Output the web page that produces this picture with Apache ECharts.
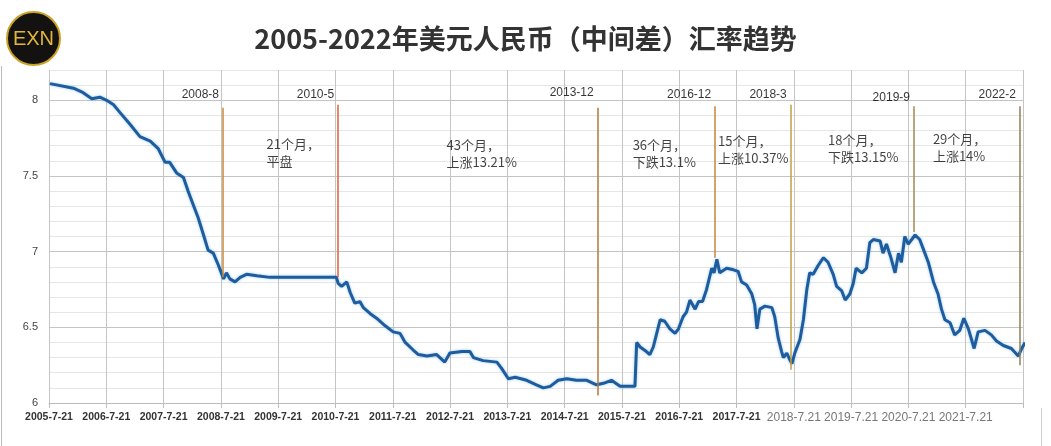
<!DOCTYPE html>
<html>
<head>
<meta charset="utf-8">
<script src="https://cdn.jsdelivr.net/npm/echarts@6/dist/echarts.min.js"></script>
<style>
  html, body { margin: 0; padding: 0; background: #fff; }
  #chart { width: 1051px; height: 446px; }
</style>
</head>
<body>
<div id="chart"></div>
<script>
// x 轴起点 2005-7-21（小数年）
const BASE = 2005.553;

const dates = [
  2005.57, 2005.98, 2006.15, 2006.30, 2006.44, 2006.56, 2006.68, 2006.79, 2006.97, 2007.14,
  2007.32, 2007.46, 2007.58, 2007.66, 2007.78, 2007.90, 2007.98, 2008.07, 2008.16, 2008.25,
  2008.33, 2008.42, 2008.51, 2008.60, 2008.65, 2008.71, 2008.80, 2008.89, 2009.00, 2009.18,
  2009.41, 2009.70, 2010.57, 2010.60, 2010.66, 2010.75, 2010.81, 2010.89, 2010.98, 2011.04,
  2011.16, 2011.27, 2011.42, 2011.56, 2011.68, 2011.77, 2011.91, 2012.00, 2012.15, 2012.32,
  2012.46, 2012.55, 2012.76, 2012.90, 2012.96, 2013.13, 2013.37, 2013.45, 2013.57, 2013.69,
  2013.89, 2014.06, 2014.18, 2014.30, 2014.44, 2014.59, 2014.76, 2014.94, 2015.11, 2015.23,
  2015.37, 2015.52, 2015.78, 2015.81, 2015.87, 2015.98, 2016.04, 2016.10, 2016.16, 2016.22,
  2016.30, 2016.39, 2016.48, 2016.54, 2016.62, 2016.68, 2016.74, 2016.83, 2016.89, 2016.96,
  2017.03, 2017.12, 2017.16, 2017.21, 2017.26, 2017.38, 2017.50, 2017.58, 2017.64, 2017.73,
  2017.82, 2017.87, 2017.91, 2017.96, 2018.05, 2018.17, 2018.22, 2018.28, 2018.34, 2018.37,
  2018.43, 2018.49, 2018.52, 2018.57, 2018.66, 2018.72, 2018.78, 2018.83, 2018.89, 2018.98,
  2019.07, 2019.15, 2019.24, 2019.30, 2019.39, 2019.45, 2019.53, 2019.59, 2019.64, 2019.74,
  2019.82, 2019.88, 2019.94, 2020.06, 2020.11, 2020.17, 2020.24, 2020.32, 2020.38, 2020.43,
  2020.49, 2020.55, 2020.67, 2020.75, 2020.84, 2020.90, 2020.99, 2021.07, 2021.13, 2021.19,
  2021.28, 2021.36, 2021.45, 2021.52, 2021.60, 2021.70, 2021.77, 2021.89, 2022.00, 2022.09,
  2022.21, 2022.35, 2022.47, 2022.53, 2022.59
];

const rates = [
  8.11, 8.08, 8.05, 8.01, 8.02, 8.00, 7.97, 7.92, 7.84, 7.76,
  7.73, 7.68, 7.59, 7.59, 7.52, 7.49, 7.40, 7.31, 7.22, 7.11,
  7.01, 6.99, 6.91, 6.82, 6.86, 6.82, 6.80, 6.83, 6.85, 6.84,
  6.83, 6.83, 6.83, 6.79, 6.77, 6.80, 6.73, 6.66, 6.67, 6.63,
  6.59, 6.56, 6.51, 6.47, 6.46, 6.40, 6.35, 6.32, 6.31, 6.32,
  6.27, 6.33, 6.34, 6.34, 6.30, 6.28, 6.27, 6.23, 6.16, 6.17,
  6.15, 6.12, 6.10, 6.11, 6.15, 6.16, 6.15, 6.15, 6.12, 6.13,
  6.15, 6.11, 6.11, 6.40, 6.37, 6.34, 6.32, 6.37, 6.46, 6.55,
  6.54, 6.49, 6.46, 6.49, 6.57, 6.60, 6.68, 6.62, 6.67, 6.67,
  6.75, 6.89, 6.86, 6.95, 6.86, 6.89, 6.88, 6.87, 6.80, 6.78,
  6.72, 6.65, 6.49, 6.62, 6.64, 6.63, 6.57, 6.43, 6.34, 6.30,
  6.33, 6.28, 6.26, 6.33, 6.42, 6.55, 6.75, 6.86, 6.85, 6.91,
  6.96, 6.93, 6.85, 6.77, 6.74, 6.68, 6.72, 6.79, 6.89, 6.86,
  6.89, 7.06, 7.08, 7.07, 6.99, 7.05, 6.97, 6.86, 6.99, 6.93,
  7.10, 7.05, 7.11, 7.08, 6.99, 6.93, 6.80, 6.72, 6.62, 6.55,
  6.53, 6.45, 6.48, 6.56, 6.49, 6.36, 6.47, 6.48, 6.45, 6.41,
  6.38, 6.36, 6.31, 6.36, 6.40
];

const xLabels = [
  '2005-7-21', '2006-7-21', '2007-7-21', '2008-7-21', '2009-7-21', '2010-7-21',
  '2011-7-21', '2012-7-21', '2013-7-21', '2014-7-21', '2015-7-21', '2016-7-21',
  '2017-7-21', '2018-7.21', '2019-7.21', '2020-7.21', '2021-7.21'
];

// 竖线标注
const markNames = ['2008-8', '2010-5', '2013-12', '2016-12', '2018-3', '2019-9', '2022-2'];
const markDates = [2008.59, 2010.60, 2015.13, 2017.18, 2018.50, 2020.65, 2022.50];
const markTops = [7.95, 7.97, 7.95, 7.96, 7.97, 7.96, 7.96];
const markEnds = [6.83, 6.83, 6.05, 6.96, 6.22, 7.13, 6.25];
const markLabelY = [8.04, 8.04, 8.05, 8.04, 8.04, 8.02, 8.04];
const markColors = ['#c98a3a', '#e0603a', '#b5793a', '#c8843a', '#c0a040', '#a08a50', '#8f7f55'];

// 区间说明
const noteTexts = ['21个月，\n平盘', '43个月，\n上涨13.21%', '36个月，\n下跌13.1%',
  '15个月，\n上涨10.37%', '18个月，\n下跌13.15%', '29个月，\n上涨14%'];
const noteDates = [2009.35, 2012.49, 2015.74, 2017.23, 2019.15, 2020.98];
const noteY = [7.765, 7.758, 7.758, 7.787, 7.791, 7.803];

const SANS = "'Liberation Sans', Arial, sans-serif";

// 0.5 的整数倍用深色线，其余浅色
const gridColors = [];
for (let i = 0; i <= 22; i++) gridColors.push(i % 5 === 0 ? '#c4c4c4' : '#e6e6e6');

const chart = echarts.init(document.getElementById('chart'), null, { renderer: 'canvas' });

const option = {
  backgroundColor: '#fff',
  animation: false,
  title: {
    text: '2005-2022年美元人民币（中间差）汇率趋势',
    left: 'center',
    top: 20,
    textStyle: {
      fontFamily: "'Noto Sans CJK SC', sans-serif",
      fontSize: 27,
      fontWeight: 'bold',
      color: '#333'
    }
  },
  grid: { left: 49, right: 28, top: 70, bottom: 43 },
  xAxis: {
    type: 'value',
    min: 0,
    max: 17,
    interval: 1,
    axisLine: { show: true, lineStyle: { color: '#bdbdbd' } },
    axisTick: { show: true, length: 5, lineStyle: { color: '#bdbdbd' } },
    splitLine: { show: true, lineStyle: { color: '#c4c4c4' } },
    axisLabel: {
      margin: 9,
      hideOverlap: false,
      showMinLabel: true,
      formatter: (v) => {
        const s = xLabels[Math.round(v)];
        if (!s) return '';
        return s.indexOf('.') > 0 ? '{g|' + s + '}' : '{d|' + s + '}';
      },
      rich: {
        d: { fontFamily: SANS, fontSize: 10.5, fontWeight: 'bold', color: '#333' },
        g: { fontFamily: SANS, fontSize: 12, color: '#777' }
      }
    }
  },
  yAxis: {
    type: 'value',
    min: 6,
    max: 8.2,
    interval: 0.1,
    axisLine: { show: false },
    axisTick: { show: false },
    splitLine: { show: true, lineStyle: { color: gridColors } },
    axisLabel: {
      margin: 11,
      fontFamily: SANS,
      fontSize: 11,
      color: '#444',
      formatter: (v) => {
        const k = Math.round(v * 10);
        return k % 5 === 0 && k <= 80 ? String(k / 10) : '';
      }
    }
  },
  series: [
    {
      name: '汇率',
      type: 'line',
      showSymbol: false,
      clip: false,
      data: dates.map((d, i) => [d - BASE, rates[i]]),
      lineStyle: {
        color: '#1f5c9e',
        width: 3,
        shadowColor: 'rgba(90, 170, 230, 0.6)',
        shadowBlur: 3
      },
      itemStyle: { color: '#1f5c9e' },
      z: 3,
      markLine: {
        silent: true,
        symbol: 'none',
        label: { show: false },
        data: markDates.map((d, i) => [
          { coord: [d - BASE, markTops[i]], lineStyle: { color: markColors[i], width: 1.5, type: 'solid' } },
          { coord: [d - BASE, markEnds[i]] }
        ])
      }
    },
    {
      name: '标注',
      type: 'scatter',
      symbolSize: 0,
      silent: true,
      data: markDates.map((d, i) => [d - BASE, markLabelY[i]]),
      label: {
        show: true,
        position: 'left',
        distance: 4,
        formatter: (p) => markNames[p.dataIndex],
        fontFamily: SANS,
        fontSize: 12,
        color: '#000'
      }
    },
    {
      name: '说明',
      type: 'scatter',
      symbolSize: 0,
      silent: true,
      data: noteDates.map((d, i) => [d - BASE, noteY[i]]),
      label: {
        show: true,
        position: [0, 0],
        align: 'left',
        verticalAlign: 'top',
        lineHeight: 17,
        formatter: (p) => noteTexts[p.dataIndex],
        fontFamily: "'Noto Sans CJK SC', sans-serif",
        fontSize: 13,
        color: '#111'
      }
    }
  ],
  graphic: [
    { type: 'line', shape: { x1: 1.5, y1: 66, x2: 1.5, y2: 446 }, style: { stroke: '#bbb', lineWidth: 1 } },
    { type: 'line', shape: { x1: 1041.5, y1: 408, x2: 1041.5, y2: 446 }, style: { stroke: '#ccc', lineWidth: 1 } },
    {
      type: 'group',
      left: 6,
      top: 11,
      children: [
        { type: 'circle', shape: { cx: 27.5, cy: 27.5, r: 26.5 }, style: { fill: '#141210', stroke: '#c9a227', lineWidth: 2 } },
        {
          type: 'text',
          style: {
            x: 27.5, y: 28.5, text: 'EXN', align: 'center', verticalAlign: 'middle',
            font: "20px 'Liberation Sans', sans-serif", fill: '#e2b63c'
          }
        }
      ]
    }
  ]
};

chart.setOption(option);
</script>
</body>
</html>
